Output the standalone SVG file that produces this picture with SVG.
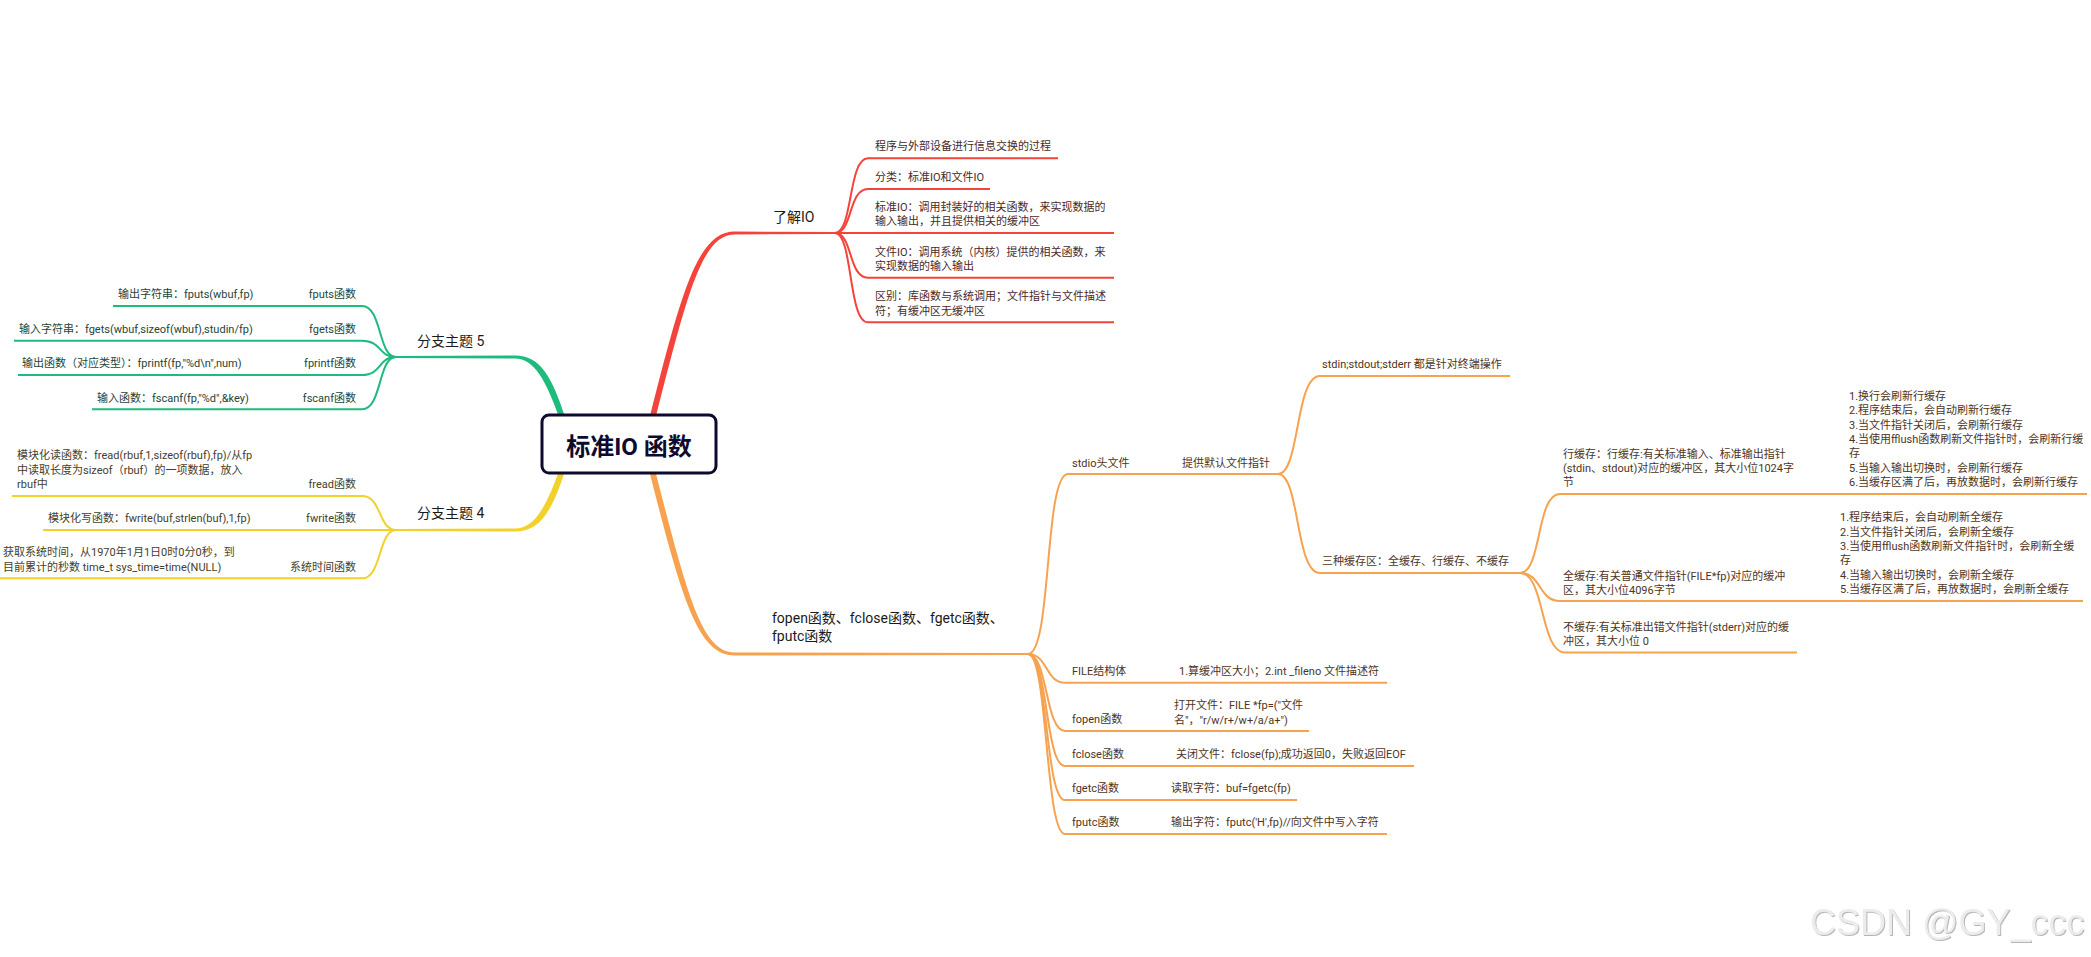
<svg xmlns="http://www.w3.org/2000/svg" width="2091" height="957" viewBox="0 0 2091 957">
<defs>
<style>
text{font-family:Roboto,"Noto Sans CJK SC",sans-serif;font-size:11px}
.m{font-size:14px;fill:#1a1a1a}
.tr{fill:#4a2828}
.tg{fill:#24443a}
.ty{fill:#45402a}
.to{fill:#4d341c}
.e{text-anchor:end}
.cr{fill:none;stroke:#f4433a;stroke-width:2}
.cg{fill:none;stroke:#1fba7e;stroke-width:2}
.cy{fill:none;stroke:#f2d12a;stroke-width:2}
.co{fill:none;stroke:#f6a24f;stroke-width:2}
.wm{font-family:"Liberation Sans",Arial,sans-serif;font-size:36px;fill:#ececec}
</style>
<filter id="emb" x="-5%" y="-20%" width="110%" height="140%">
<feDropShadow dx="1" dy="1" stdDeviation="0.6" flood-color="#b5b5b5"/>
</filter>
</defs>
<rect width="2091" height="957" fill="#ffffff"/>

<g id="connectors">
<path fill="#f4433a" d="M649,420 C682,289 698,231.5 735,231.5 L835,232 L835,234 L735,234.5 C702,234.5 688,291 655,420 Z"/>
<path fill="#f6a24f" d="M649,470 C682,600 698,655.5 735,655.5 L1028,655 L1028,653 L735,652.5 C702,652.5 688,598 655,470 Z"/>
<path fill="#1fba7e" d="M566,420 C552,376 540,355.5 515,355.5 L396,356 L396,358 L515,358.5 C534,358.5 546,380 560,420 Z"/>
<path fill="#f2d12a" d="M566,468 C552,512 540,531.5 515,531.5 L396,531 L396,529 L515,528.5 C534,528.5 546,508 560,468 Z"/>

<path class="cr" d="M835,233 C853,233 848,158.3 868,158.3 L1058,158.3"/>
<path class="cr" d="M835,233 C853,233 848,189 868,189 L990,189"/>
<path class="cr" d="M835,233 L1114,233"/>
<path class="cr" d="M835,233 C853,233 848,277.7 868,277.7 L1114,277.7"/>
<path class="cr" d="M835,233 C853,233 848,322.3 868,322.3 L1114,322.3"/>

<path class="cg" d="M396,357 C378,357 382,306 362,306 L113,306"/>
<path class="cg" d="M396,357 C378,357 382,340.7 362,340.7 L14,340.7"/>
<path class="cg" d="M396,357 C378,357 382,375 362,375 L18,375"/>
<path class="cg" d="M396,357 C378,357 382,409.3 362,409.3 L92,409.3"/>

<path class="cy" d="M396,530 C378,530 382,496 362,496 L12,496"/>
<path class="cy" d="M396,530 L43,530"/>
<path class="cy" d="M396,530 C378,530 382,578.3 362,578.3 L0,578.3"/>

<path class="co" d="M1028,654 C1052,654 1044,474 1068,474 L1278,474"/>
<path class="co" d="M1278,474 C1300,474 1295,376 1320,376 L1510,376"/>
<path class="co" d="M1278,474 C1300,474 1295,573 1320,573 L1520,573"/>
<path class="co" d="M1520,573 C1542,573 1536,494 1560,494 L2087,494"/>
<path class="co" d="M1520,573 C1542,573 1538,601 1560,601 L2083,601"/>
<path class="co" d="M1520,573 C1545,573 1540,652.5 1565,652.5 L1797,652.5"/>
<path class="co" d="M1028,654 C1048,654 1045,682.7 1065,682.7 L1387,682.7"/>
<path class="co" d="M1028,654 C1048,654 1045,731 1065,731 L1309,731"/>
<path class="co" d="M1028,654 C1048,654 1045,766 1065,766 L1414,766"/>
<path class="co" d="M1028,654 C1048,654 1045,800 1065,800 L1297,800"/>
<path class="co" d="M1028,654 C1048,654 1045,834 1065,834 L1387,834"/>
</g>

<g id="root">
<rect x="542" y="415" width="174" height="58" rx="7" fill="#ffffff" stroke="#0d0b2e" stroke-width="3"/>
<text x="629" y="455" text-anchor="middle" style="font-size:24px;font-weight:bold;fill:#0d0b2e">标准IO 函数</text>
</g>

<g id="n-liaojie"><text class="m" x="773" y="222">了解IO</text></g>
<g id="n-r1"><text class="tr" x="875" y="150">程序与外部设备进行信息交换的过程</text></g>
<g id="n-r2"><text class="tr" x="875" y="181">分类：标准IO和文件IO</text></g>
<g id="n-r3"><text class="tr" x="875" y="211">标准IO：调用封装好的相关函数，来实现数据的</text><text class="tr" x="875" y="225">输入输出，并且提供相关的缓冲区</text></g>
<g id="n-r4"><text class="tr" x="875" y="256">文件IO：调用系统（内核）提供的相关函数，来</text><text class="tr" x="875" y="270">实现数据的输入输出</text></g>
<g id="n-r5"><text class="tr" x="875" y="300">区别：库函数与系统调用；文件指针与文件描述</text><text class="tr" x="875" y="314.5">符；有缓冲区无缓冲区</text></g>

<g id="n-branch5"><text class="m" x="417" y="346">分支主题 5</text></g>
<g id="n-fputs"><text class="tg e" x="356" y="298">fputs函数</text></g>
<g id="n-fputs-d"><text class="tg" x="118" y="298">输出字符串：fputs(wbuf,fp)</text></g>
<g id="n-fgets"><text class="tg e" x="356" y="333">fgets函数</text></g>
<g id="n-fgets-d"><text class="tg" x="19" y="333">输入字符串：fgets(wbuf,sizeof(wbuf),studin/fp)</text></g>
<g id="n-fprintf"><text class="tg e" x="356" y="367">fprintf函数</text></g>
<g id="n-fprintf-d"><text class="tg" x="22" y="367">输出函数（对应类型）：fprintf(fp,"%d\n",num)</text></g>
<g id="n-fscanf"><text class="tg e" x="356" y="401.5">fscanf函数</text></g>
<g id="n-fscanf-d"><text class="tg" x="97" y="401.5">输入函数：fscanf(fp,"%d",&amp;key)</text></g>

<g id="n-branch4"><text class="m" x="417" y="518">分支主题 4</text></g>
<g id="n-fread"><text class="ty e" x="356" y="488">fread函数</text></g>
<g id="n-fread-d"><text class="ty" x="17" y="459">模块化读函数：fread(rbuf,1,sizeof(rbuf),fp)/从fp</text><text class="ty" x="17" y="473.5">中读取长度为sizeof（rbuf）的一项数据，放入</text><text class="ty" x="17" y="488">rbuf中</text></g>
<g id="n-fwrite"><text class="ty e" x="356" y="521.5">fwrite函数</text></g>
<g id="n-fwrite-d"><text class="ty" x="48" y="521.5">模块化写函数：fwrite(buf,strlen(buf),1,fp)</text></g>
<g id="n-time"><text class="ty e" x="356" y="570.5">系统时间函数</text></g>
<g id="n-time-d"><text class="ty" x="3" y="556">获取系统时间，从1970年1月1日0时0分0秒，到</text><text class="ty" x="3" y="570.5">目前累计的秒数 time_t sys_time=time(NULL)</text></g>

<g id="n-fopen-all"><text class="m" x="772" y="623">fopen函数、fclose函数、fgetc函数、</text><text class="m" x="772" y="641">fputc函数</text></g>
<g id="n-stdio"><text class="to" x="1072" y="467">stdio头文件</text></g>
<g id="n-default"><text class="to" x="1182" y="467">提供默认文件指针</text></g>
<g id="n-stdin"><text class="to" x="1322" y="368">stdin;stdout;stderr 都是针对终端操作</text></g>
<g id="n-three"><text class="to" x="1322" y="565">三种缓存区：全缓存、行缓存、不缓存</text></g>
<g id="n-line"><text class="to" x="1563" y="458">行缓存：行缓存:有关标准输入、标准输出指针</text><text class="to" x="1563" y="472">(stdin、stdout)对应的缓冲区，其大小位1024字</text><text class="to" x="1563" y="486">节</text></g>
<g id="n-line-d"><text class="to" x="1849" y="400">1.换行会刷新行缓存</text><text class="to" x="1849" y="414.3">2.程序结束后，会自动刷新行缓存</text><text class="to" x="1849" y="428.7">3.当文件指针关闭后，会刷新行缓存</text><text class="to" x="1849" y="443">4.当使用fflush函数刷新文件指针时，会刷新行缓</text><text class="to" x="1849" y="457.3">存</text><text class="to" x="1849" y="471.7">5.当输入输出切换时，会刷新行缓存</text><text class="to" x="1849" y="486">6.当缓存区满了后，再放数据时，会刷新行缓存</text></g>
<g id="n-full"><text class="to" x="1563" y="580">全缓存:有关普通文件指针(FILE*fp)对应的缓冲</text><text class="to" x="1563" y="593.5">区，其大小位4096字节</text></g>
<g id="n-full-d"><text class="to" x="1840" y="521.3">1.程序结束后，会自动刷新全缓存</text><text class="to" x="1840" y="535.7">2.当文件指针关闭后，会刷新全缓存</text><text class="to" x="1840" y="550">3.当使用fflush函数刷新文件指针时，会刷新全缓</text><text class="to" x="1840" y="564.3">存</text><text class="to" x="1840" y="578.7">4.当输入输出切换时，会刷新全缓存</text><text class="to" x="1840" y="593">5.当缓存区满了后，再放数据时，会刷新全缓存</text></g>
<g id="n-none"><text class="to" x="1563" y="630.7">不缓存:有关标准出错文件指针(stderr)对应的缓</text><text class="to" x="1563" y="644.7">冲区，其大小位 0</text></g>
<g id="n-file"><text class="to" x="1072" y="675">FILE结构体</text></g>
<g id="n-file-d"><text class="to" x="1179" y="675">1.算缓冲区大小；2.int _fileno 文件描述符</text></g>
<g id="n-fopen"><text class="to" x="1072" y="723">fopen函数</text></g>
<g id="n-fopen-d"><text class="to" x="1174" y="709">打开文件：FILE *fp=("文件</text><text class="to" x="1174" y="723.5">名"，"r/w/r+/w+/a/a+")</text></g>
<g id="n-fclose"><text class="to" x="1072" y="758">fclose函数</text></g>
<g id="n-fclose-d"><text class="to" x="1176" y="758">关闭文件：fclose(fp);成功返回0，失败返回EOF</text></g>
<g id="n-fgetc"><text class="to" x="1072" y="792">fgetc函数</text></g>
<g id="n-fgetc-d"><text class="to" x="1171" y="792">读取字符：buf=fgetc(fp)</text></g>
<g id="n-fputc"><text class="to" x="1072" y="826">fputc函数</text></g>
<g id="n-fputc-d"><text class="to" x="1171" y="826">输出字符：fputc('H',fp)//向文件中写入字符</text></g>

<g id="watermark"><text class="wm" x="1810" y="935" filter="url(#emb)">CSDN @GY_ccc</text></g>
</svg>
